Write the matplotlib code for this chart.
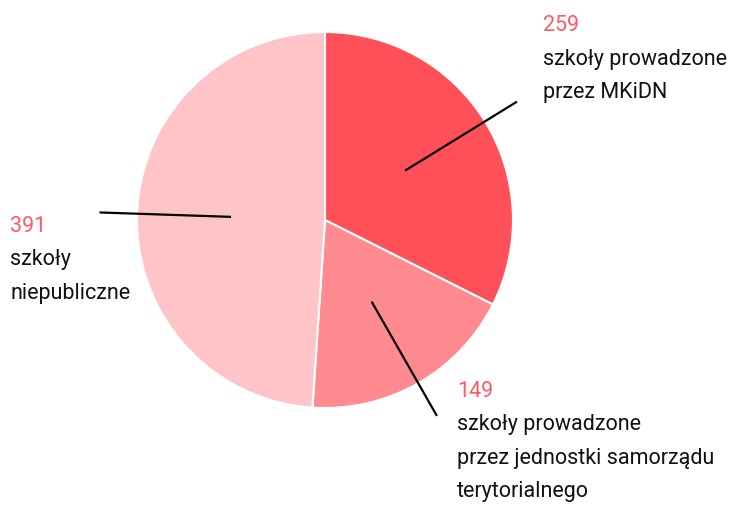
import numpy as np
import matplotlib
matplotlib.use("Agg")
import matplotlib.pyplot as plt

values = [259, 149, 391]
numbers = ["259", "149", "391"]
labels = [["szkoły prowadzone", "przez MKiDN"],
          ["szkoły prowadzone", "przez jednostki samorządu", "terytorialnego"],
          ["szkoły", "niepubliczne"]]
colors = ["#ff505a", "#ff8a8f", "#ffc4c7"]
number_color = "#ff5a64"

W, H = 735, 506
fig = plt.figure(figsize=(W / 100, H / 100), dpi=100)
cx, cy, R = 325, 221, 188
ax = fig.add_axes([(cx - R) / W, (H - cy - R) / H, 2 * R / W, 2 * R / H])
wedges, _ = ax.pie(values, colors=colors, startangle=90, counterclock=False,
                   radius=1.0, wedgeprops=dict(edgecolor="white", linewidth=1.5))
ax.set_xlim(-1, 1)
ax.set_ylim(-1, 1)
ax.set_aspect("equal")
ax.axis("off")

# leader lines from 0.5r to 1.2r along the mid-angle of each wedge
for w in wedges:
    mid = np.deg2rad((w.theta1 + w.theta2) / 2)
    x0, y0 = 0.5 * np.cos(mid), 0.5 * np.sin(mid)
    x1, y1 = 1.2 * np.cos(mid), 1.2 * np.sin(mid)
    ax.plot([x0, x1], [y0, y1], color="black", lw=1.6, clip_on=False,
            solid_capstyle="butt")

font = "Roboto"
fs = 15.5
# label anchors: (x px, first baseline px)
anchors = [(543, 31), (457, 397), (10, 232)]
step = 33.5
for (x, yb), num, lines in zip(anchors, numbers, labels):
    fig.text(x / W, 1 - yb / H, num, color=number_color, fontsize=fs,
             family=font, va="baseline", ha="left")
    for i, line in enumerate(lines):
        fig.text(x / W, 1 - (yb + step * (i + 1)) / H, line, color="#111111",
                 fontsize=fs, family=font, va="baseline", ha="left")

fig.savefig("out.png", dpi=100, facecolor="white")
